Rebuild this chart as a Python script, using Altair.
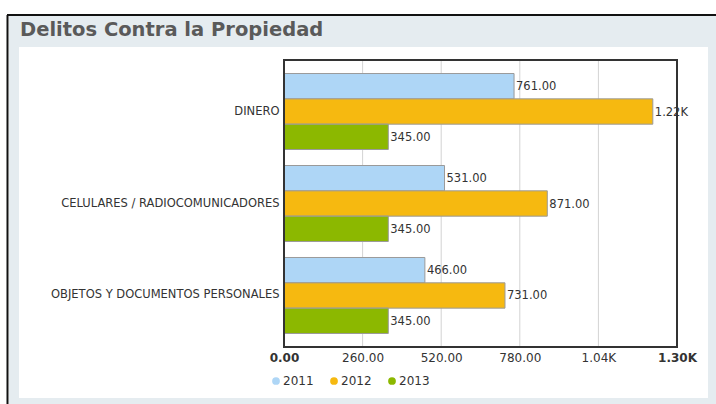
import altair as alt
import pandas as pd

categories = ["DINERO", "CELULARES / RADIOCOMUNICADORES", "OBJETOS Y DOCUMENTOS PERSONALES"]
years = ["2011", "2012", "2013"]
v2011 = [761, 531, 466]
v2012 = [1220, 871, 731]
v2013 = [345, 345, 345]
year_colors = ["#aed6f6", "#f6b910", "#8cb800"]
axis_ticks = [0, 260, 520, 780, 1040, 1300]
grid_ticks = [260, 520, 780, 1040]
title_text = "Delitos Contra la Propiedad"

rows = []
for yr, vals in zip(years, [v2011, v2012, v2013]):
    for c, v in zip(categories, vals):
        rows.append({"categoria": c, "anio": yr, "valor": v})
df = pd.DataFrame(rows)

W, H = 393, 287
one = pd.DataFrame({"a": [0]})
FONT = "DejaVu Sans"

bg = alt.Chart(one).mark_rect(color="#e5ecf0").encode(
    x=alt.value(-275), x2=alt.value(432), y=alt.value(-44), y2=alt.value(344))
panel = alt.Chart(one).mark_rect(color="#ffffff").encode(
    x=alt.value(-265), x2=alt.value(424), y=alt.value(-13), y2=alt.value(338))
left_line = alt.Chart(one).mark_rule(color="#111111", strokeWidth=2).encode(
    x=alt.value(-276.5), y=alt.value(-45), y2=alt.value(344))
top_line = alt.Chart(one).mark_rule(color="#111111", strokeWidth=2).encode(
    x=alt.value(-277), x2=alt.value(432), y=alt.value(-45))
title = alt.Chart(one).mark_text(
    text=title_text, align="left", baseline="middle", font=FONT,
    fontSize=19.5, fontWeight="bold", color="#5a5a5a").encode(
    x=alt.value(-264), y=alt.value(-30))

xscale = alt.Scale(domain=[0, 1300], nice=False)

grid = alt.Chart(pd.DataFrame({"g": grid_ticks})).mark_rule(
    color="#d3d3d3", strokeWidth=1).encode(
    x=alt.X("g:Q", scale=xscale), y=alt.value(0), y2=alt.value(H))

yenc = alt.Y("categoria:N", sort=categories, title=None,
             scale=alt.Scale(paddingInner=0.174, paddingOuter=0.147),
             axis=alt.Axis(domain=False, ticks=False, labelPadding=5,
                           labelFont=FONT, labelFontSize=11.5, labelColor="#333333",
                           zindex=1, labelLimit=400))
yoff = alt.YOffset("anio:N", sort=years, scale=alt.Scale(paddingInner=0, paddingOuter=0))

xenc = alt.X("valor:Q", scale=xscale, title=None,
             axis=alt.Axis(values=axis_ticks, grid=False, domain=False, ticks=False,
                           labelPadding=5, labelFlush=False, labelFont=FONT,
                           labelFontSize=12, labelColor="#333333", zindex=1,
                           labelExpr="datum.value >= 1000 ? format(datum.value/1000, '.2f') + 'K' : format(datum.value, '.2f')",
                           labelFontWeight={"condition": {"test": "datum.value == 0 || datum.value == 1300", "value": "bold"}, "value": "normal"}))

bars = alt.Chart(df).mark_bar(stroke="#9a9a9a", strokeWidth=1).encode(
    x=xenc, y=yenc, yOffset=yoff,
    color=alt.Color("anio:N", sort=years,
                    scale=alt.Scale(domain=years, range=year_colors),
                    legend=alt.Legend(title=None, orient="none", direction="horizontal",
                                      legendX=-14, legendY=315, symbolType="circle",
                                      symbolSize=60, symbolStrokeWidth=0,
                                      labelFont=FONT, labelFontSize=12, labelColor="#333333",
                                      labelOffset=1, columnPadding=14, padding=0)))

labels = alt.Chart(df).transform_calculate(
    lbl="datum.valor >= 1000 ? format(datum.valor/1000, '.2f') + 'K' : format(datum.valor, '.2f')"
).mark_text(align="left", baseline="middle", dx=2, dy=1, font=FONT, fontSize=11.5,
            color="#333333").encode(
    x=alt.X("valor:Q", scale=xscale), y=alt.Y("categoria:N", sort=categories),
    yOffset=alt.YOffset("anio:N", sort=years), text="lbl:N")

frame = alt.Chart(one).mark_rect(fill=None, stroke="#333333", strokeWidth=2).encode(
    x=alt.value(0), x2=alt.value(W), y=alt.value(0), y2=alt.value(H))

chart = alt.layer(bg, panel, left_line, top_line, title, grid, bars, frame, labels).properties(
    width=W, height=H,
    autosize=alt.AutoSizeParams(type="none"),
    padding={"left": 284, "top": 60, "right": 39, "bottom": 57},
    background="#ffffff",
).configure_view(stroke=None)

chart.save("out.html", embed_options={"renderer": "svg", "actions": False})
